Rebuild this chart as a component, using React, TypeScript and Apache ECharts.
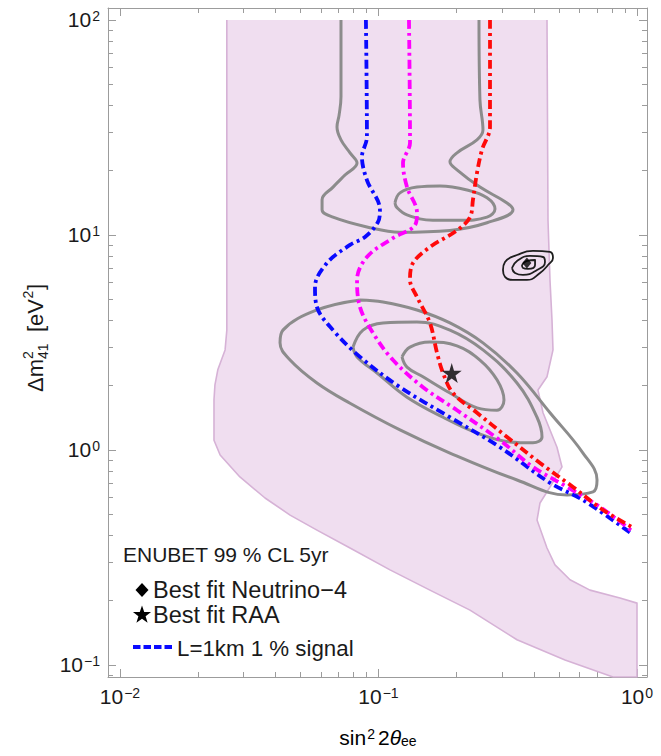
import React, { useEffect, useRef } from 'react';
import * as echarts from 'echarts';

// axis ranges (sin^2 2theta, Delta m^2)
const xRange = [0.008987, 1.0932];
const yRange = [0.08793, 113.7];
const xTickExp = [-2, -1, 0];
const yTickExp = [-1, 0, 1, 2];
const xMinorTicks = [0.009, 0.02, 0.03, 0.04, 0.05, 0.06, 0.07, 0.08, 0.09, 0.2, 0.3, 0.4, 0.5, 0.6, 0.7, 0.8, 0.9];
const yMinorTicks = [0.09, 0.2, 0.3, 0.4, 0.5, 0.6, 0.7, 0.8, 0.9, 2, 3, 4, 5, 6, 7, 8, 9, 20, 30, 40, 50, 60, 70, 80, 90];

// ENUBET 99% CL 5yr sensitivity region [sin^2 2theta, dm^2]
const enubetRegion = [
  [0.0259, 100], [0.0259, 3.61], [0.0255, 2.92], [0.0239, 2.36], [0.0233, 2.01], [0.0231, 1.71],
  [0.0231, 1.11], [0.0244, 0.948], [0.0291, 0.749], [0.0364, 0.598], [0.0455, 0.498], [0.0578, 0.424],
  [0.0776, 0.35], [0.1108, 0.277], [0.1581, 0.223], [0.2259, 0.18], [0.3434, 0.131], [0.5266, 0.1055],
  [0.8077, 0.0879], [1.0, 0.0879], [1.0, 0.194], [0.8594, 0.205], [0.6577, 0.223], [0.5506, 0.249],
  [0.4817, 0.292], [0.4486, 0.35], [0.4104, 0.472], [0.4215, 0.567], [0.4607, 0.673], [0.5127, 0.834],
  [0.4903, 1.03], [0.433, 1.49], [0.414, 1.9], [0.4486, 2.19], [0.4732, 2.92], [0.469, 4.02],
  [0.4607, 6.18], [0.4526, 11.7], [0.4486, 100],
];

// RAA allowed regions (gray)
const raaUpperOpen = [
  [0.0716, 100], [0.0716, 43.9], [0.0704, 36.1], [0.0691, 31.8], [0.0716, 27.7], [0.0776, 24.1],
  [0.0826, 21.6], [0.0742, 19.0], [0.0667, 16.7], [0.0605, 14.6], [0.0605, 13.1], [0.0667, 12.1],
  [0.0902, 10.9], [0.1211, 10.3], [0.189, 10.5], [0.2629, 11.4], [0.3314, 13.1], [0.3141, 14.1],
  [0.2469, 16.7], [0.2012, 20.1], [0.189, 21.9], [0.2012, 24.1], [0.2404, 27.7], [0.2536, 30.8],
  [0.2469, 42.4], [0.2448, 100],
];
const raaUpperLoop = [
  [0.1158, 14.1], [0.1211, 15.7], [0.1409, 16.7], [0.1729, 16.9], [0.22, 16.2], [0.2629, 14.9],
  [0.2823, 13.2], [0.2629, 12.1], [0.2066, 11.7], [0.1624, 11.7], [0.1289, 12.4], [0.1179, 13.4],
];
const raaOuter = [
  [0.0848, 4.99], [0.1041, 4.88], [0.1409, 4.48], [0.189, 3.9], [0.2536, 3.15], [0.3434, 2.28],
  [0.4607, 1.49], [0.6182, 0.968], [0.7005, 0.725], [0.676, 0.638], [0.5361, 0.618], [0.3434, 0.725],
  [0.189, 0.968], [0.1211, 1.24], [0.0776, 1.65], [0.0578, 2.05], [0.0455, 2.62], [0.0416, 3.15],
  [0.0427, 3.61], [0.0578, 4.48],
];
const raaMiddle = [
  [0.0797, 3.01], [0.0871, 3.61], [0.1041, 3.9], [0.1409, 3.94], [0.189, 3.61], [0.2536, 2.92],
  [0.3434, 2.05], [0.4104, 1.42], [0.4291, 1.15], [0.3959, 1.08], [0.3227, 1.09], [0.2404, 1.2],
  [0.1777, 1.42], [0.1289, 1.76], [0.0987, 2.28], [0.0826, 2.71],
];
const raaInner = [
  [0.1233, 2.71], [0.1324, 3.01], [0.1581, 3.18], [0.2012, 3.05], [0.2469, 2.62], [0.2873, 2.12],
  [0.3058, 1.71], [0.2873, 1.53], [0.2404, 1.57], [0.189, 1.84], [0.1486, 2.19], [0.1289, 2.43],
];

// Neutrino-4 contours (black)
const n4Outer = [
  [0.3031, 6.87], [0.3086, 7.49], [0.3434, 8.07], [0.3959, 8.43], [0.4607, 8.34], [0.4732, 7.82],
  [0.4526, 7.25], [0.4215, 6.66], [0.3753, 6.18], [0.3314, 6.18], [0.3086, 6.38],
];
const n4Middle = [
  [0.3284, 7.02], [0.3434, 7.57], [0.3855, 7.99], [0.433, 7.9], [0.4406, 7.49], [0.4104, 6.87],
  [0.3622, 6.52], [0.3373, 6.66],
];
const n4Inner = [
  [0.359, 7.25], [0.3753, 7.57], [0.4033, 7.65], [0.4033, 7.25], [0.3787, 6.95], [0.3622, 7.02],
];

// dash-dot sensitivity curves
const blueCurve = [
  [0.0894, 100], [0.0902, 28.6], [0.0863, 23.1], [0.0902, 18.0], [0.1013, 13.1], [0.0996, 11.5],
  [0.0887, 9.79], [0.0776, 8.99], [0.0632, 7.41], [0.0568, 5.73], [0.0578, 4.62], [0.0667, 3.61],
  [0.0848, 2.71], [0.1211, 1.96], [0.189, 1.42], [0.2951, 1.03], [0.4607, 0.703], [0.6182, 0.585],
  [0.9565, 0.407],
];
const magentaCurve = [
  [0.1312, 100], [0.1324, 26.8], [0.1244, 21.6], [0.1289, 16.7], [0.1409, 12.7], [0.1384, 11.1],
  [0.1138, 9.68], [0.0902, 7.9], [0.0826, 6.18], [0.0848, 4.62], [0.0952, 3.5], [0.1138, 2.62],
  [0.1486, 1.96], [0.2012, 1.53], [0.2951, 1.11], [0.3959, 0.834], [0.5361, 0.673], [0.7195, 0.543],
  [0.9565, 0.42],
];
const redCurve = [
  [0.27, 100], [0.27, 31.8], [0.2514, 24.9], [0.2404, 19.4], [0.232, 14.6], [0.2259, 12.1],
  [0.2012, 10.5], [0.1581, 8.79], [0.136, 7.41], [0.1324, 6.18], [0.1409, 5.15], [0.1581, 3.9],
  [0.1684, 2.83], [0.1777, 2.28], [0.1941, 1.84], [0.2404, 1.49], [0.3141, 1.15], [0.4215, 0.87],
  [0.5654, 0.673], [0.7386, 0.526], [0.9565, 0.438],
];

const bestFitN4 = [[0.375, 7.41]];
const bestFitRAA = [[0.192, 2.28]];

const legendLines = ['ENUBET 99 % CL 5yr', 'Best fit Neutrino\u22124', 'Best fit RAA', 'L=1km 1 % signal'];

const FONT = "'Liberation Sans', Arial, Helvetica, sans-serif";
const TXT = '#1a1a1a';
const AXC = '#9c9c9c';

const lg = (pts: number[][]) => pts.map(([x, y]) => [Math.log10(x), Math.log10(y)]);
const closed = (pts: number[][]) => [...pts, pts[0]];

const STAR = 'path://M50,0 L61,35 L98,35 L68,57 L79,91 L50,70 L21,91 L32,57 L2,35 L39,35 Z';

function starPoints(cx: number, cy: number, R: number, r: number) {
  const pts: number[][] = [];
  for (let k = 0; k < 10; k++) {
    const a = -Math.PI / 2 + (k * Math.PI) / 5;
    const rr = k % 2 === 0 ? R : r;
    pts.push([cx + rr * Math.cos(a), cy + rr * Math.sin(a)]);
  }
  return pts;
}

const supStr = (v: number) => (v < 0 ? '\u2212' + Math.abs(Math.round(v)) : String(Math.round(v)));
const tickRich = {
  b: { fontFamily: FONT, fontSize: 21, color: TXT },
  s: { fontFamily: FONT, fontSize: 14, color: TXT, verticalAlign: 'top', padding: [0, 0, 0, 1] },
};

function buildOption() {
  const xl = [Math.log10(xRange[0]), Math.log10(xRange[1])];
  const yl = [Math.log10(yRange[0]), Math.log10(yRange[1])];
  const xMinorLog = xMinorTicks.map(Math.log10);
  const yMinorLog = yMinorTicks.map(Math.log10);
  const gridRect = { left: 108, top: 8, width: 539, height: 669 };

  const mkX = (grid: number, pos: string, ticks: number[], len: number, labels: boolean, line: boolean) => ({
    type: 'value', gridIndex: grid, position: pos, min: xl[0], max: xl[1],
    axisLine: { show: line, onZero: false, lineStyle: { color: AXC, width: 1 } },
    axisTick: { show: true, inside: true, length: len, customValues: ticks, lineStyle: { color: AXC, width: 1 } },
    axisLabel: labels
      ? { show: true, customValues: ticks, margin: 9, formatter: (v: number) => `{b|10}{s|${supStr(v)}}`, rich: tickRich }
      : { show: false },
    splitLine: { show: false },
  });
  const mkY = (grid: number, pos: string, ticks: number[], len: number, labels: boolean, line: boolean) => ({
    type: 'value', gridIndex: grid, position: pos, min: yl[0], max: yl[1],
    axisLine: { show: line, onZero: false, lineStyle: { color: AXC, width: 1 } },
    axisTick: { show: true, inside: true, length: len, customValues: ticks, lineStyle: { color: AXC, width: 1 } },
    axisLabel: labels
      ? { show: true, customValues: ticks, margin: 8, formatter: (v: number) => `{b|10}{s|${supStr(v)}}`, rich: tickRich }
      : { show: false },
    splitLine: { show: false },
  });

  const lineSeries = (data: number[][], color: string, width: number, type: any, smooth: number, z: number) => ({
    type: 'line', xAxisIndex: 0, yAxisIndex: 0, data: lg(data), showSymbol: false, symbol: 'none',
    smooth, silent: true, z,
    lineStyle: { color, width, type, cap: 'butt', join: 'round' },
  });

  const DASHDOT = [9, 4, 3, 4];

  const region = lg(enubetRegion);

  const starLegend = starPoints(142, 615, 9.5, 3.8);

  return {
    animation: false,
    backgroundColor: '#ffffff',
    grid: [gridRect, gridRect],
    xAxis: [
      mkX(0, 'bottom', xTickExp, 8, true, true),
      mkX(0, 'top', xTickExp, 8, false, true),
      mkX(1, 'bottom', xMinorLog, 5, false, false),
      mkX(1, 'top', xMinorLog, 5, false, false),
    ],
    yAxis: [
      mkY(0, 'left', yTickExp, 8, true, true),
      mkY(0, 'right', yTickExp, 8, false, true),
      mkY(1, 'left', yMinorLog, 5, false, false),
      mkY(1, 'right', yMinorLog, 5, false, false),
    ],
    series: [
      {
        type: 'custom', xAxisIndex: 0, yAxisIndex: 0, silent: true, z: 1,
        data: [[-1, 0]],
        renderItem: (_p: any, api: any) => ({
          type: 'polygon',
          shape: { points: region.map((pt) => api.coord(pt)) },
          style: { fill: '#f0def0', stroke: null },
        }),
      },
      lineSeries(enubetRegion, '#d6b2d6', 1.6, 'solid', 0, 2),
      lineSeries(raaUpperOpen, '#8c8c8c', 3, 'solid', 0.4, 3),
      lineSeries(closed(raaUpperLoop), '#8c8c8c', 3, 'solid', 0.4, 3),
      lineSeries(closed(raaOuter), '#8c8c8c', 3, 'solid', 0.4, 3),
      lineSeries(closed(raaMiddle), '#8c8c8c', 3, 'solid', 0.4, 3),
      lineSeries(closed(raaInner), '#8c8c8c', 3, 'solid', 0.4, 3),
      lineSeries(blueCurve, '#0a0aff', 3.8, DASHDOT, 0.35, 4),
      lineSeries(magentaCurve, '#ff00ff', 3.8, DASHDOT, 0.35, 4),
      lineSeries(redCurve, '#ff0a0a', 3.8, DASHDOT, 0.35, 4),
      lineSeries(closed(n4Outer), '#1e1e1e', 1.8, 'solid', 0.5, 5),
      lineSeries(closed(n4Middle), '#1e1e1e', 1.8, 'solid', 0.5, 5),
      lineSeries(closed(n4Inner), '#1e1e1e', 1.8, 'solid', 0.5, 5),
      {
        type: 'scatter', xAxisIndex: 0, yAxisIndex: 0, data: lg(bestFitN4), symbol: 'diamond',
        symbolSize: [9, 11], itemStyle: { color: '#000' }, silent: true, z: 6,
      },
      {
        type: 'scatter', xAxisIndex: 0, yAxisIndex: 0, data: lg(bestFitRAA), symbol: STAR,
        symbolSize: 20, itemStyle: { color: '#000' }, silent: true, z: 6,
      },
    ],
    graphic: {
      elements: [
        {
          type: 'text', x: 378, y: 737, z: 10,
          style: {
            text: '{a|sin}{s|2}{a|2}{t|\u03b8}{b|ee}', x: 0, y: 0, align: 'center', verticalAlign: 'middle',
            rich: {
              a: { fontFamily: FONT, fontSize: 21, color: TXT },
              s: { fontFamily: FONT, fontSize: 14, color: TXT, verticalAlign: 'top', padding: [0, 3, 0, 1] },
              t: { fontFamily: FONT, fontSize: 21, color: TXT, fontStyle: 'italic' },
              b: { fontFamily: FONT, fontSize: 14, color: TXT, verticalAlign: 'bottom' },
            },
          },
        },
        {
          type: 'group', x: 35, y: 336, rotation: Math.PI / 2, z: 10,
          children: [
            { type: 'text', x: -56, y: 0, style: { text: '\u0394m', fontFamily: FONT, fontSize: 22, fill: TXT, align: 'left', verticalAlign: 'middle' } },
            { type: 'text', x: -23, y: -7, style: { text: '2', fontFamily: FONT, fontSize: 14, fill: TXT, align: 'left', verticalAlign: 'middle' } },
            { type: 'text', x: -23, y: 8, style: { text: '41', fontFamily: FONT, fontSize: 14, fill: TXT, align: 'left', verticalAlign: 'middle' } },
            { type: 'text', x: 4, y: 0, style: { text: '[eV', fontFamily: FONT, fontSize: 22, fill: TXT, align: 'left', verticalAlign: 'middle' } },
            { type: 'text', x: 37.5, y: -7, style: { text: '2', fontFamily: FONT, fontSize: 14, fill: TXT, align: 'left', verticalAlign: 'middle' } },
            { type: 'text', x: 46, y: 0, style: { text: ']', fontFamily: FONT, fontSize: 22, fill: TXT, align: 'left', verticalAlign: 'middle' } },
          ],
        },
        {
          type: 'text', x: 123, y: 554, z: 10,
          style: { text: legendLines[0], fontFamily: FONT, fontSize: 21, fill: TXT, align: 'left', verticalAlign: 'middle' },
        },
        {
          type: 'polygon', z: 10,
          shape: { points: [[142, 583], [148.5, 590], [142, 597], [135.5, 590]] },
          style: { fill: '#000' },
        },
        {
          type: 'text', x: 153, y: 590, z: 10,
          style: { text: legendLines[1], fontFamily: FONT, fontSize: 23.5, fill: TXT, align: 'left', verticalAlign: 'middle' },
        },
        {
          type: 'polygon', z: 10, shape: { points: starLegend }, style: { fill: '#000' },
        },
        {
          type: 'text', x: 153, y: 615, z: 10,
          style: { text: legendLines[2], fontFamily: FONT, fontSize: 23.5, fill: TXT, align: 'left', verticalAlign: 'middle' },
        },
        {
          type: 'line', z: 10,
          shape: { x1: 133, y1: 647, x2: 173, y2: 647 },
          style: { stroke: '#0a0aff', lineWidth: 4, lineDash: [7.5, 3] },
        },
        {
          type: 'text', x: 177, y: 648, z: 10,
          style: { text: legendLines[3], fontFamily: FONT, fontSize: 22.3, fill: TXT, align: 'left', verticalAlign: 'middle' },
        },
      ],
    },
  };
}

export default function App() {
  const ref = useRef<HTMLDivElement>(null);
  useEffect(() => {
    if (!ref.current) return;
    const chart = echarts.init(ref.current, null, { renderer: 'svg' });
    chart.setOption(buildOption() as any);
    return () => chart.dispose();
  }, []);
  return (
    <div
      ref={ref}
      style={{ position: 'fixed', left: 0, top: 0, width: 661, height: 756, background: '#fff' }}
    />
  );
}
